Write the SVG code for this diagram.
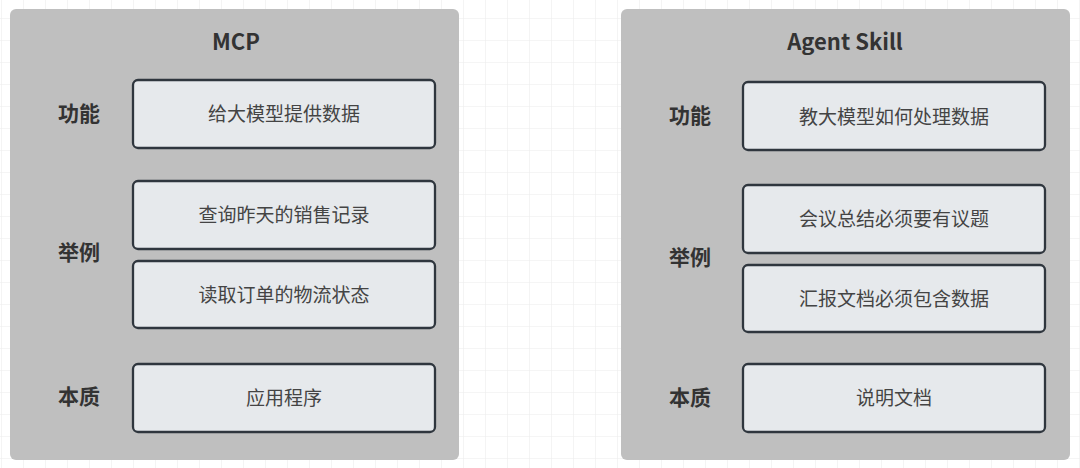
<svg xmlns="http://www.w3.org/2000/svg" width="1080" height="468" viewBox="0 0 1080 468">
  <defs>
    <pattern id="grid" x="1" y="18" width="22" height="22" patternUnits="userSpaceOnUse">
      <path d="M0 0H22M0 0V22" fill="none" stroke="#ececec" stroke-width="1.2"/>
    </pattern>
    <style>
      .panel { fill: #bfbfbf; }
      .box { fill: #e6e9ec; stroke: #2f363e; stroke-width: 2.3; }
      .title { font-family: "Noto Sans CJK SC", "Noto Sans", sans-serif; font-weight: bold; font-size: 22px; fill: #333333; text-anchor: middle; }
      .label { font-family: "Noto Sans CJK SC", sans-serif; font-weight: bold; font-size: 21px; fill: #333333; text-anchor: middle; }
      .txt { font-family: "Noto Sans CJK SC", sans-serif; font-size: 19px; fill: #444444; text-anchor: middle; }
    </style>
  </defs>
  <rect width="1080" height="468" fill="#ffffff"/>
  <rect width="1080" height="468" fill="url(#grid)"/>

  <g id="mcp-panel">
    <rect class="panel" x="10" y="9" width="449" height="451" rx="6"/>
    <text class="title" x="236" y="50">MCP</text>
    <text class="label" x="79" y="121">功能</text>
    <text class="label" x="79" y="260">举例</text>
    <text class="label" x="79" y="404">本质</text>
  </g>
  <g id="mcp-func">
    <rect class="box" x="133" y="80" width="302" height="68" rx="5"/>
    <text class="txt" x="284" y="121">给大模型提供数据</text>
  </g>
  <g id="mcp-ex1">
    <rect class="box" x="133" y="181" width="302" height="68" rx="5"/>
    <text class="txt" x="284" y="222">查询昨天的销售记录</text>
  </g>
  <g id="mcp-ex2">
    <rect class="box" x="133" y="261" width="302" height="67" rx="5"/>
    <text class="txt" x="284" y="302">读取订单的物流状态</text>
  </g>
  <g id="mcp-essence">
    <rect class="box" x="133" y="364" width="302" height="68" rx="5"/>
    <text class="txt" x="284" y="405">应用程序</text>
  </g>

  <g id="skill-panel">
    <rect class="panel" x="621" y="9" width="449" height="451" rx="6"/>
    <text class="title" x="845" y="50">Agent Skill</text>
    <text class="label" x="690" y="123">功能</text>
    <text class="label" x="690" y="265">举例</text>
    <text class="label" x="690" y="405">本质</text>
  </g>
  <g id="skill-func">
    <rect class="box" x="743" y="82" width="302" height="68" rx="5"/>
    <text class="txt" x="894" y="124">教大模型如何处理数据</text>
  </g>
  <g id="skill-ex1">
    <rect class="box" x="743" y="185" width="302" height="68" rx="5"/>
    <text class="txt" x="894" y="226">会议总结必须要有议题</text>
  </g>
  <g id="skill-ex2">
    <rect class="box" x="743" y="265" width="302" height="67" rx="5"/>
    <text class="txt" x="894" y="306">汇报文档必须包含数据</text>
  </g>
  <g id="skill-essence">
    <rect class="box" x="743" y="364" width="302" height="68" rx="5"/>
    <text class="txt" x="894" y="405">说明文档</text>
  </g>

  <g id="connectors"></g>
</svg>
